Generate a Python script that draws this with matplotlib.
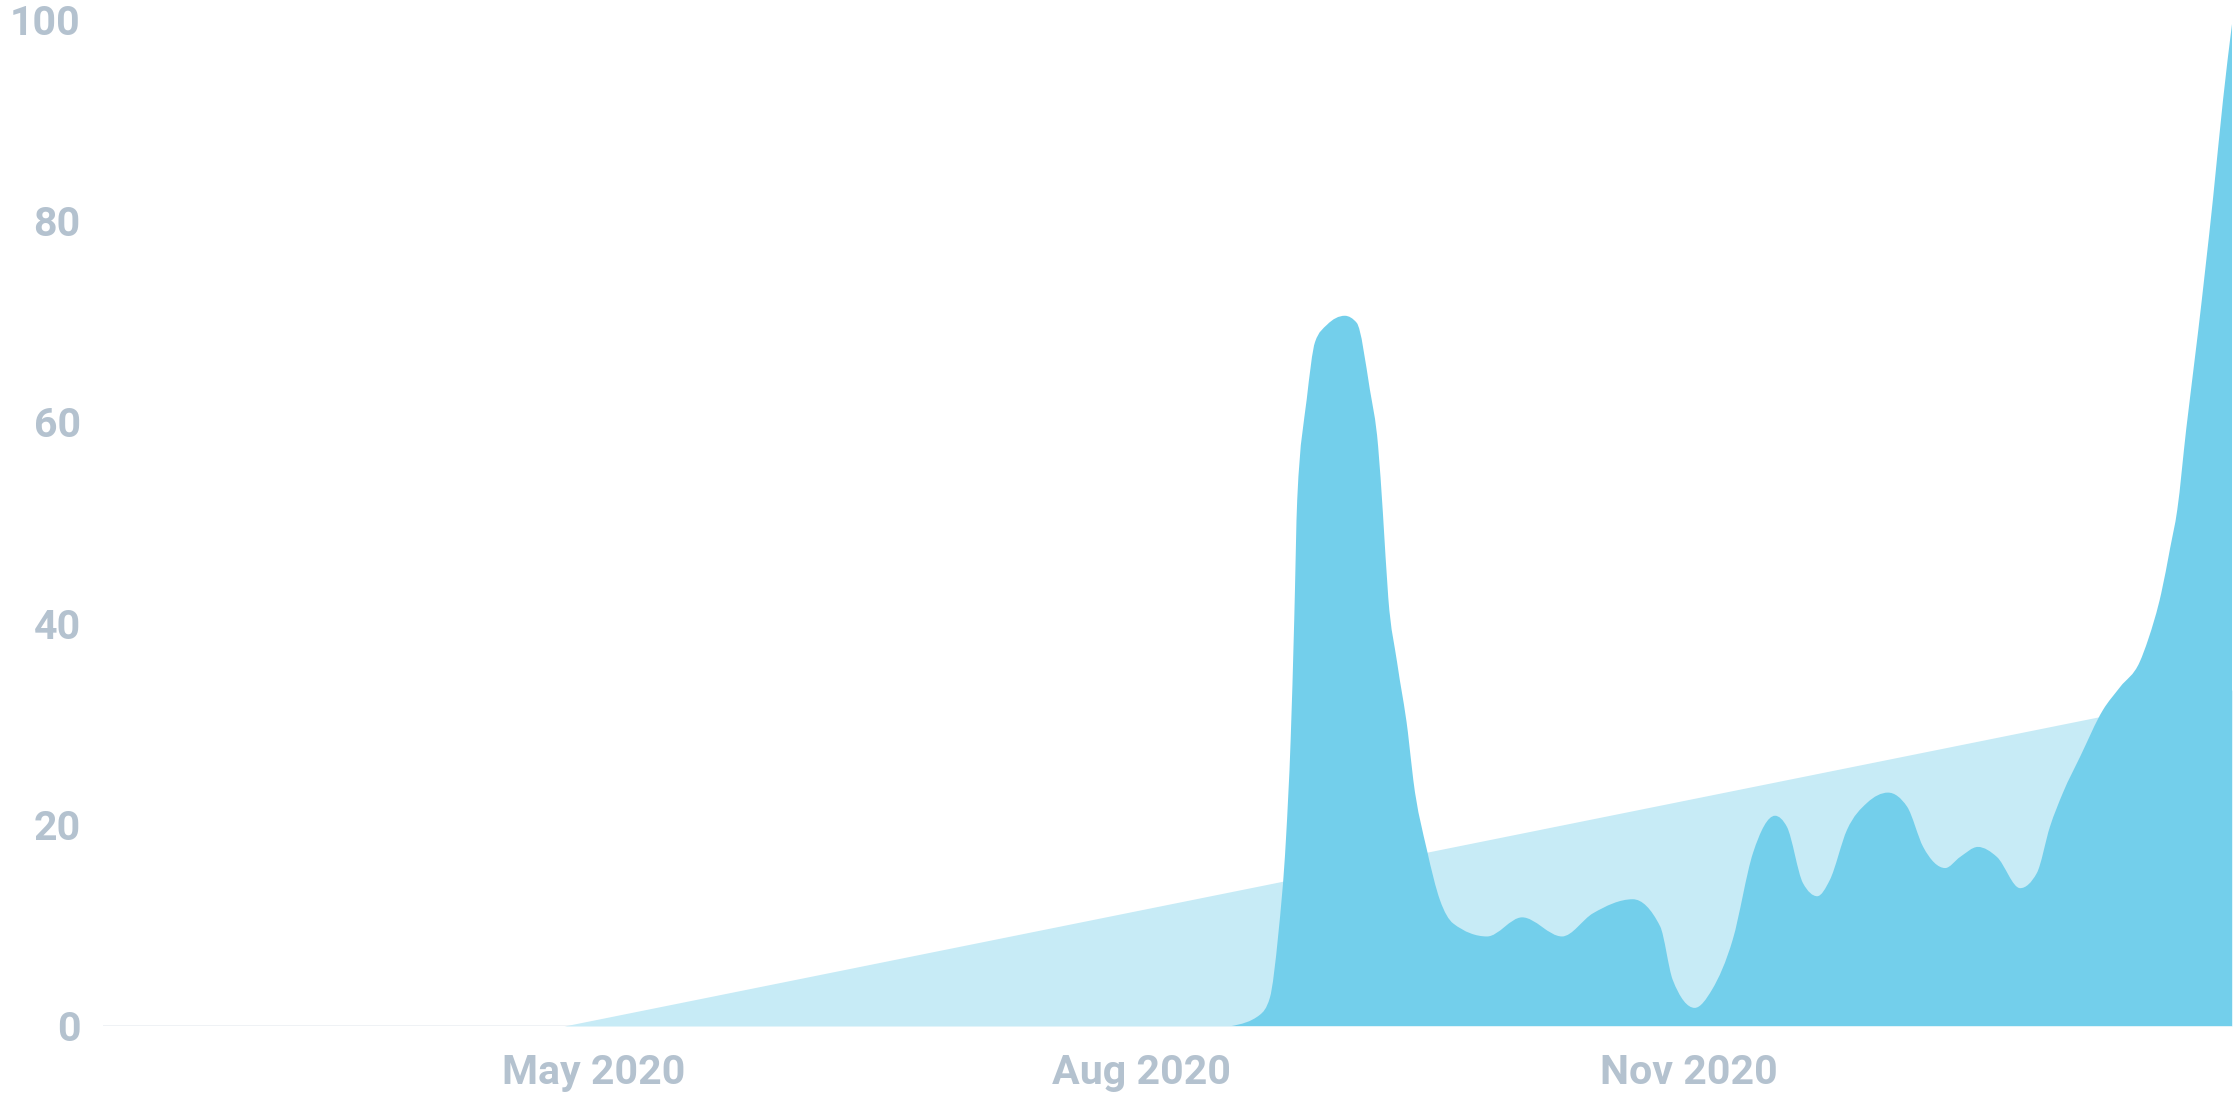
import numpy as np
import matplotlib
matplotlib.use('Agg')
import matplotlib.pyplot as plt
import matplotlib.dates as mdates
from matplotlib.path import Path
from matplotlib.patches import PathPatch

# all x values are days counted from this date
BASE_DATE = '2020-05-01'

# measured series (dark area)
series_days = [107.2, 111.9, 113.6, 115.0, 116.3, 117.1, 117.7, 118.2, 119.8,
               121.2, 123.2, 126.2, 128.2, 130.4, 131.8, 132.6, 133.5, 135.0,
               136.8, 137.7, 140.0, 142.2, 144.4, 150.1, 156.0, 162.7, 167.9,
               174.6, 179.2, 181.3, 185.0, 187.9, 191.4, 194.8, 198.5, 200.5,
               203.2, 205.6, 207.7, 210.6, 214.0, 217.5, 220.7, 223.4, 227.1,
               229.6, 232.6, 235.8, 239.7, 242.5, 244.7, 246.9, 249.8, 253.6,
               256.5, 259.8, 261.2, 263.4, 264.9, 266.1, 267.6, 269.6, 272.1,
               273.8, 275.3]
series_values = [0.0, 1.1, 2.8, 9.0, 18.5, 28.5, 40.4, 52.3, 62.3,
                 68.0, 69.7, 70.6, 69.9, 63.3, 57.6, 51.0, 42.6, 36.1,
                 29.2, 24.5, 17.5, 12.5, 10.2, 8.9, 10.8, 8.9, 11.2,
                 12.6, 9.9, 4.6, 1.8, 3.6, 8.6, 17.2, 20.9, 19.8,
                 14.2, 12.9, 14.5, 19.5, 22.2, 23.2, 21.8, 17.8, 15.7,
                 16.8, 17.8, 16.8, 13.7, 15.2, 19.8, 23.2, 26.8, 31.4,
                 33.7, 36.2, 38.4, 43.0, 47.5, 51.3, 59.3, 69.0, 82.2,
                 92.1, 99.6]

# linear trend (light area)
trend_days = [-5.0, 275.3]
trend_values = [0.0, 33.4]

x_range_days = [-82.5, 275.3]
y_ticks = [0, 20, 40, 60, 80, 100]
x_tick_dates = ['2020-05-01', '2020-08-01', '2020-11-01']
x_tick_labels = ['May 2020', 'Aug 2020', 'Nov 2020']


def monotone_area(x, y):
    """Closed area path under a monotone-x cubic curve through the points."""
    x = np.asarray(x, float)
    y = np.asarray(y, float)
    n = len(x)
    h = np.diff(x)
    s = np.diff(y) / h
    t = np.zeros(n)
    for i in range(1, n - 1):
        p = (s[i - 1] * h[i] + s[i] * h[i - 1]) / (h[i - 1] + h[i])
        t[i] = (np.sign(s[i - 1]) + np.sign(s[i])) * min(abs(s[i - 1]), abs(s[i]), 0.5 * abs(p))
    t[0] = (3 * s[0] - t[1]) / 2
    t[-1] = (3 * s[-1] - t[-2]) / 2

    verts = [(x[0], 0), (x[0], y[0])]
    codes = [Path.MOVETO, Path.LINETO]
    for i in range(n - 1):
        d = h[i] / 3
        verts += [(x[i] + d, y[i] + t[i] * d),
                  (x[i + 1] - d, y[i + 1] - t[i + 1] * d),
                  (x[i + 1], y[i + 1])]
        codes += [Path.CURVE4] * 3
    verts += [(x[-1], 0), (x[0], 0)]
    codes += [Path.LINETO, Path.CLOSEPOLY]
    return Path(verts, codes)


base = mdates.datestr2num(BASE_DATE)
sx = base + np.array(series_days)
tx = base + np.array(trend_days)

plt.rcParams['font.family'] = ['Roboto', 'DejaVu Sans']

fig = plt.figure(figsize=(11.2, 5.6), dpi=200)
ax = fig.add_axes([103 / 2240, 94 / 1120, (2232 - 103) / 2240, 1006 / 1120])

ax.axhline(0, color='#eef1f4', lw=1, zorder=0)
ax.fill_between(tx, trend_values, 0, color='#c7ebf6', lw=0, zorder=1)
ax.add_patch(PathPatch(monotone_area(sx, series_values),
                       facecolor='#73cfeb', edgecolor='none', zorder=2))

ax.set_xlim(base + x_range_days[0], base + x_range_days[1])
ax.set_ylim(0, 100)
ax.set_yticks(y_ticks)
ax.set_xticks(mdates.datestr2num(x_tick_dates))
ax.set_xticklabels(x_tick_labels)

for side in ['top', 'right', 'bottom', 'left']:
    ax.spines[side].set_visible(False)
ax.tick_params(axis='both', length=0, labelsize=14.8, labelcolor='#b4c2cf')
ax.tick_params(axis='x', pad=10)
ax.tick_params(axis='y', pad=8)
for lbl in ax.get_xticklabels() + ax.get_yticklabels():
    lbl.set_fontweight('bold')

fig.savefig('out.png', dpi=200)
